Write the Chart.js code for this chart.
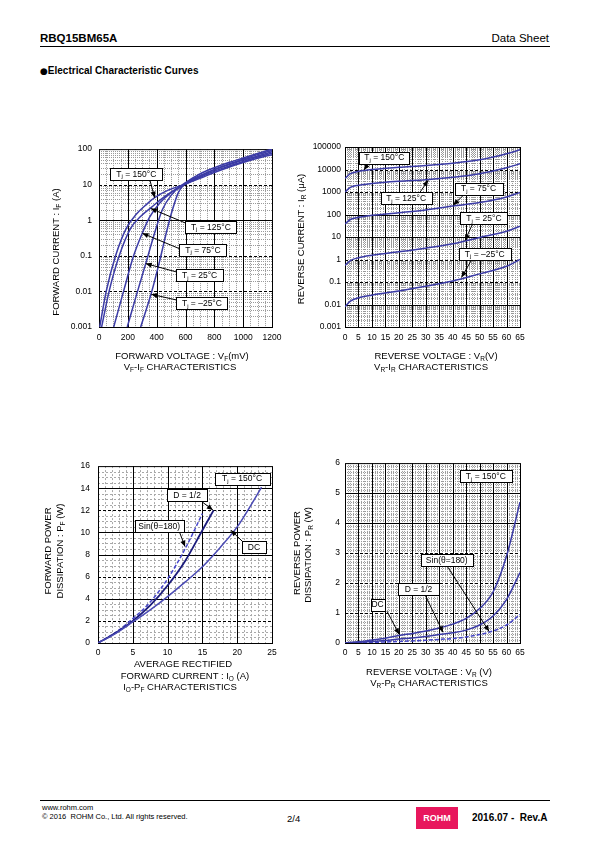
<!DOCTYPE html>
<html><head><meta charset="utf-8">
<script src="https://cdn.jsdelivr.net/npm/chart.js@4.4.1/dist/chart.umd.min.js"></script>
<style>
html,body{margin:0;padding:0}
body{width:595px;height:842px;background:#fff;position:relative;font-family:"Liberation Sans",Arial,sans-serif;color:#000;overflow:hidden}
.a{position:absolute;white-space:nowrap;line-height:1}
.c{transform:translate(-50%,-50%)}
.r{transform:translate(-50%,-50%) rotate(-90deg)}
.ax{font-size:9.5px}
sub{font-size:6.5px;vertical-align:-2px;line-height:0}
canvas{position:absolute}
.hr{position:absolute;height:1px;background:#000}
</style></head>
<body>
<div class="a" style="left:40px;top:33px;font-size:11.5px;font-weight:bold">RBQ15BM65A</div>
<div class="a" style="right:46px;top:33px;font-size:11.5px">Data Sheet</div>
<div class="hr" style="left:40px;top:46px;width:510px"></div>
<div class="a" style="left:40px;top:66px;font-size:10px;font-weight:bold"><span style="font-family:'DejaVu Sans';font-size:9px;vertical-align:0.5px">●</span>Electrical Characteristic Curves</div>

<canvas id="c1"></canvas><canvas id="c2"></canvas><canvas id="c3"></canvas><canvas id="c4"></canvas>

<!-- chart 1 titles -->
<div class="a r ax" style="left:56px;top:252px">FORWARD CURRENT : I<sub>F</sub> (A)</div>
<div class="a c ax" style="left:182px;top:356px">FORWARD VOLTAGE : V<sub>F</sub>(mV)</div>
<div class="a c ax" style="left:180px;top:367px">V<sub>F</sub>-I<sub>F</sub> CHARACTERISTICS</div>
<!-- chart 2 titles -->
<div class="a r ax" style="left:301px;top:239px">REVERSE CURRENT : I<sub>R</sub> (μA)</div>
<div class="a c ax" style="left:436px;top:356px">REVERSE VOLTAGE : V<sub>R</sub>(V)</div>
<div class="a c ax" style="left:431px;top:367px">V<sub>R</sub>-I<sub>R</sub> CHARACTERISTICS</div>
<!-- chart 3 titles -->
<div class="a r ax" style="left:48px;top:551px">FORWARD POWER</div>
<div class="a r ax" style="left:60px;top:551px">DISSIPATION : P<sub>F</sub> (W)</div>
<div class="a c ax" style="left:183px;top:664px">AVERAGE RECTIFIED</div>
<div class="a c ax" style="left:185px;top:676px">FORWARD CURRENT : I<sub>O</sub> (A)</div>
<div class="a c ax" style="left:180px;top:687px">I<sub>O</sub>-P<sub>F</sub> CHARACTERISTICS</div>
<!-- chart 4 titles -->
<div class="a r ax" style="left:297px;top:553px">REVERSE POWER</div>
<div class="a r ax" style="left:308px;top:555px">DISSIPATION : P<sub>R</sub> (W)</div>
<div class="a c ax" style="left:429px;top:672px">REVERSE VOLTAGE : V<sub>R</sub> (V)</div>
<div class="a c ax" style="left:429px;top:683px">V<sub>R</sub>-P<sub>R</sub> CHARACTERISTICS</div>

<!-- footer -->
<div class="hr" style="left:40px;top:800px;width:510px"></div>
<div class="a" style="left:42px;top:804px;font-size:7.5px">www.rohm.com</div>
<div class="a" style="left:42px;top:813px;font-size:7.5px">© 2016&nbsp; ROHM Co., Ltd. All rights reserved.</div>
<div class="a" style="left:287px;top:814px;font-size:9.5px">2/4</div>
<div class="a" style="left:416px;top:807px;width:42px;height:22px;background:#e8175d;color:#fff;font-weight:bold;font-size:9px;text-align:center;line-height:22px">ROHM</div>
<div class="a" style="left:472px;top:813px;font-size:10px;font-weight:bold">2016.07 -&nbsp; Rev.A</div>

<script>
// ---------------- DATA ----------------
// VF-IF (x: mV, y: A)
const vfTicksX = [0,200,400,600,800,1000,1200];
const vfTicksY = [0.001,0.01,0.1,1,10,100];
const vf150_mV = [5,50,115,190,260,330,386,480,600,700,800,900,1000,1100,1200];
const vf150_A  = [0.001,0.01,0.1,0.6,1.5,2.8,4.3,7,10.5,15,22,31,42,55,70];
const vf125_mV = [18,70,140,220,290,363,450,580,700,800,900,1000,1100,1200];
const vf125_A  = [0.001,0.01,0.1,0.6,1.3,2.3,4.5,9.5,16,24,33,45,60,77];
const vf75_mV  = [102,170,240,300,350,420,500,590,700,800,900,1000,1100,1200];
const vf75_A   = [0.001,0.01,0.1,0.43,1.2,3,6,10,17,26,36,49,64,84];
const vf25_mV  = [196,260,324,390,440,500,580,700,800,900,1000,1100,1200];
const vf25_A   = [0.001,0.008,0.06,0.5,2,5,10,18,27,38,52,70,92];
const vfm25_mV = [289,363,420,470,510,550,600,700,800,900,1000,1100,1200];
const vfm25_A  = [0.001,0.009,0.07,0.5,2,6,11,20,30,42,56,75,100];

// VR-IR (x: V, y: uA)
const vrTicksX = [0,5,10,15,20,25,30,35,40,45,50,55,60,65];
const vrTicksY = [0.001,0.01,0.1,1,10,100,1000,10000,100000];
const vr_V     = [0,2,5,10,20,30,40,50,60,65];
const ir150_uA = [4000,6500,8300,10000,12500,15000,19000,27000,50000,75000];
const ir125_uA = [1000,1600,2000,2400,3000,3500,4500,6500,12000,18000];
const ir75_uA  = [38,60,75,92,120,160,240,340,600,950];
const ir25_uA  = [0.55,0.9,1.2,1.55,2.2,3.2,5,9.5,18,30];
const irm25_uA = [0.008,0.014,0.02,0.026,0.04,0.065,0.11,0.23,0.5,1.0];

// Io-PF (x: A, y: W)
const ioTicksX = [0,5,10,15,20,25];
const ioTicksY = [0,2,4,6,8,10,12,14,16];
const pfDC_A   = [0,2.5,5,7.5,10,12.5,15,17.5,20,22,23.5];
const pfDC_W   = [0,0.85,1.9,3.0,4.2,5.5,6.9,8.6,10.5,12.5,14.1];
const pfD_A    = [0,2.5,5,7.5,10,12.5,15,16.6];
const pfD_W    = [0,0.9,2.0,3.4,5.2,7.4,10.2,12.0];
const pfSin_A  = [0,2.5,5,7.5,10,12.5,15];
const pfSin_W  = [0,0.95,2.2,3.7,5.8,8.5,11.7];

// VR-PR (x: V, y: W)
const prTicksX = [0,5,10,15,20,25,30,35,40,45,50,55,60,65];
const prTicksY = [0,1,2,3,4,5,6];
const pr_V     = [0,5,10,15,20,25,30,35,40,45,50,55,60,65];
const prDC_W   = [0,0.04,0.1,0.16,0.25,0.32,0.4,0.5,0.63,0.82,1.15,1.7,2.9,4.7];
const prD_W    = [0,0.02,0.05,0.08,0.13,0.17,0.22,0.28,0.34,0.43,0.6,0.9,1.45,2.35];
const prSin_W  = [0,0.008,0.02,0.035,0.05,0.07,0.09,0.12,0.15,0.2,0.28,0.4,0.6,0.95];

// ---------------- helpers ----------------
const FONT = '"Liberation Sans", Arial, sans-serif';
Chart.defaults.font.family = FONT;
Chart.defaults.color = '#000';

function pts(xs, ys){ return xs.map((x,i)=>({x:x, y:ys[i]})); }
function range(a,b,s){ const r=[]; for(let v=a; v<=b+1e-9; v+=s) r.push(+v.toFixed(6)); return r; }
function logMinor(d0,d1){ const r=[]; for(let d=d0; d<d1; d++) for(let k=2;k<=9;k++) r.push(k*Math.pow(10,d)); return r; }
function offMajor(list, step){ return list.filter(v=>Math.abs(v/step-Math.round(v/step))>1e-6); }

function segWidth(ctx, seg){
  let w=0; seg.forEach(([t,s])=>{ ctx.font=(s?'6px ':'8.5px ')+FONT; w+=ctx.measureText(t).width; }); return w;
}
function drawSeg(ctx, seg, x, y){
  let cx=x;
  seg.forEach(([t,s])=>{ ctx.font=(s?'6px ':'8.5px ')+FONT; ctx.fillText(t,cx,y+(s?2.5:0)); cx+=ctx.measureText(t).width; });
}
const Tj = t => [['T',0],['j',1],[' = '+t,0]];

const PAPER = {};
const paper = {
  id:'paperGrid',
  beforeDatasetsDraw(chart){
    const o = PAPER[chart.canvas.id]; if(!o) return;
    const {ctx, chartArea:a} = chart; const sx=chart.scales.x, sy=chart.scales.y;
    ctx.save();
    ctx.lineWidth=1; ctx.strokeStyle=o.minorColor; ctx.setLineDash(o.minorDash);
    ctx.beginPath();
    o.xMinor.forEach(v=>{ const p=Math.round(sx.getPixelForValue(v))+0.5; ctx.moveTo(p,a.top); ctx.lineTo(p,a.bottom); });
    o.yMinor.forEach(v=>{ const p=Math.round(sy.getPixelForValue(v))+0.5; ctx.moveTo(a.left,p); ctx.lineTo(a.right,p); });
    ctx.stroke();
    ctx.strokeStyle='#000';
    sx.ticks.forEach((t,i)=>{ if(i===0||i===sx.ticks.length-1) return;
      const p=Math.round(sx.getPixelForValue(t.value))+0.5;
      ctx.setLineDash(o.dashedX.includes(t.value)?[3,2]:[]);
      ctx.beginPath(); ctx.moveTo(p,a.top); ctx.lineTo(p,a.bottom); ctx.stroke(); });
    sy.ticks.forEach((t,i)=>{ if(i===0||i===sy.ticks.length-1) return;
      const p=Math.round(sy.getPixelForValue(t.value))+0.5;
      ctx.setLineDash(o.dashedY.includes(t.value)?[3,2]:[]);
      ctx.beginPath(); ctx.moveTo(a.left,p); ctx.lineTo(a.right,p); ctx.stroke(); });
    ctx.setLineDash([]);
    ctx.strokeRect(a.left+0.5,a.top+0.5,a.right-a.left,a.bottom-a.top);
    ctx.restore();
  },
  afterDatasetsDraw(chart){
    const o = PAPER[chart.canvas.id]; if(!o) return;
    const {ctx} = chart; const sx=chart.scales.x, sy=chart.scales.y;
    ctx.save(); ctx.setLineDash([]); ctx.lineWidth=1; ctx.strokeStyle='#000'; ctx.fillStyle='#000';
    o.annots.forEach(an=>{
      if(!an.tip) return;
      const x1=sx.getPixelForValue(an.tail[0]), y1=sy.getPixelForValue(an.tail[1]);
      const x2=sx.getPixelForValue(an.tip[0]), y2=sy.getPixelForValue(an.tip[1]);
      ctx.beginPath(); ctx.moveTo(x1,y1); ctx.lineTo(x2,y2); ctx.stroke();
      const g=Math.atan2(y2-y1,x2-x1), L=6, W=2.6;
      ctx.beginPath(); ctx.moveTo(x2,y2);
      ctx.lineTo(x2-L*Math.cos(g)+W*Math.sin(g), y2-L*Math.sin(g)-W*Math.cos(g));
      ctx.lineTo(x2-L*Math.cos(g)-W*Math.sin(g), y2-L*Math.sin(g)+W*Math.cos(g));
      ctx.closePath(); ctx.fill();
    });
    o.annots.forEach(an=>{
      const cx=sx.getPixelForValue(an.c[0]), cy=sy.getPixelForValue(an.c[1]);
      const tw=segWidth(ctx,an.seg), w=an.w||tw+10, h=12;
      const l=Math.round(cx-w/2)+0.5, t=Math.round(cy-h/2)+0.5;
      ctx.fillStyle='#fff'; ctx.fillRect(l,t,w,h); ctx.strokeRect(l,t,w,h);
      ctx.fillStyle='#000'; ctx.textBaseline='middle'; ctx.textAlign='left';
      drawSeg(ctx,an.seg,cx-tw/2,cy+0.5);
    });
    ctx.restore();
  }
};

function mk(id, rect, s){
  const cv=document.getElementById(id);
  const L=70,T=10,R=24,B=30,XH=20;
  cv.width=rect.right-rect.left+L+R; cv.height=rect.bottom-rect.top+T+B;
  cv.style.left=(rect.left-L)+'px'; cv.style.top=(rect.top-T)+'px';
  PAPER[id]=s.paper;
  const tickFont={size:8.5,family:FONT};
  new Chart(cv,{
    type:'line',
    data:{datasets:s.datasets.map(d=>({data:d.data,borderColor:d.color,borderWidth:d.width||1.5,borderDash:d.dash||[],
      pointRadius:0,fill:false,cubicInterpolationMode:'monotone'}))},
    options:{
      responsive:false, animation:false, devicePixelRatio:1,
      layout:{padding:{top:T,right:R,bottom:B-XH,left:0}},
      plugins:{legend:{display:false},tooltip:{enabled:false}},
      scales:{
        x:{type:'linear',min:s.xt[0],max:s.xt[s.xt.length-1],
          afterFit(sc){sc.height=XH;},
          afterBuildTicks(sc){sc.ticks=s.xt.map(v=>({value:v}));},
          grid:{display:false,drawTicks:false},border:{display:false},
          ticks:{font:tickFont,color:'#000',padding:s.xpad,maxRotation:0,autoSkip:false,callback:v=>String(v)}},
        y:{type:s.ylog?'logarithmic':'linear',min:s.yt[0],max:s.yt[s.yt.length-1],
          afterFit(sc){sc.width=L;},
          afterBuildTicks(sc){sc.ticks=s.yt.map(v=>({value:v}));},
          grid:{display:false,drawTicks:false},border:{display:false},
          ticks:{font:tickFont,color:'#000',padding:s.ypad,autoSkip:false,callback:v=>String(v)}}
      }
    },
    plugins:[paper]
  });
}

const BLUE='#3b3ba6';

// Chart 1: VF-IF
mk('c1',{left:99,top:147,right:272,bottom:327},{
  xt:vfTicksX, yt:vfTicksY, ylog:true, xpad:6, ypad:7,
  datasets:[
    {data:pts(vf150_mV,vf150_A),color:BLUE},
    {data:pts(vf125_mV,vf125_A),color:BLUE},
    {data:pts(vf75_mV,vf75_A),color:BLUE},
    {data:pts(vf25_mV,vf25_A),color:BLUE},
    {data:pts(vfm25_mV,vfm25_A),color:BLUE}],
  paper:{minorColor:'#9a9a9a',minorDash:[1,1],xMinor:offMajor(range(0,1200,50),200),yMinor:logMinor(-3,2),
    dashedX:[],dashedY:[10,0.1,0.01],
    annots:[
      {seg:Tj('150°C'),c:[259,20.4],w:52,tail:[352,14],tip:[386,4.3]},
      {seg:Tj('125°C'),c:[776,0.66],w:51,tail:[599,0.84],tip:[359,2.14]},
      {seg:Tj('75°C'),c:[721,0.149],w:47,tail:[560,0.158],tip:[301,0.43]},
      {seg:Tj('25°C'),c:[698,0.0286],w:47,tail:[537,0.0353],tip:[324,0.0605]},
      {seg:Tj('–25°C'),c:[714,0.0046],w:51,tail:[537,0.00575],tip:[363,0.0083]}]}
});

// Chart 2: VR-IR
mk('c2',{left:345,top:147,right:520,bottom:327},{
  xt:vrTicksX, yt:vrTicksY, ylog:true, xpad:6, ypad:4,
  datasets:[
    {data:pts(vr_V,ir150_uA),color:BLUE},
    {data:pts(vr_V,ir125_uA),color:BLUE},
    {data:pts(vr_V,ir75_uA),color:BLUE},
    {data:pts(vr_V,ir25_uA),color:BLUE},
    {data:pts(vr_V,irm25_uA),color:BLUE}],
  paper:{minorColor:'#9a9a9a',minorDash:[1,1],xMinor:offMajor(range(0,65,1),5),yMinor:logMinor(-3,5),
    dashedX:[],dashedY:[10000,1000,1,0.1],
    annots:[
      {seg:Tj('150°C'),c:[14.6,34000],w:50,tail:[8.65,18800],tip:[7.06,9460]},
      {seg:Tj('125°C'),c:[22.7,535],w:51,tail:[27.9,990],tip:[30.9,3290]},
      {seg:Tj('75°C'),c:[49.6,1416],w:48,tail:[44.3,782],tip:[40.2,261]},
      {seg:Tj('25°C'),c:[51.6,70],w:47,tail:[47.4,38.7],tip:[44.6,6.98]},
      {seg:Tj('–25°C'),c:[51.9,1.8],w:52,tail:[47.1,1.0],tip:[43.3,0.162]}]}
});

// Chart 3: Io-PF
mk('c3',{left:98,top:463,right:272,bottom:643},{
  xt:ioTicksX, yt:ioTicksY, ylog:false, xpad:5, ypad:8,
  datasets:[
    {data:pts(pfDC_A,pfDC_W),color:'#4a4ab4'},
    {data:pts(pfD_A,pfD_W),color:'#1c1c7c',width:1.8},
    {data:pts(pfSin_A,pfSin_W),color:'#4848cc',dash:[4,2]}],
  paper:{minorColor:'#a8a8a8',minorDash:[2,2],xMinor:offMajor(range(0,25,1),5),yMinor:offMajor(range(0,16,0.5),2),
    dashedX:[],dashedY:[12,6,2],
    annots:[
      {seg:Tj('150°C'),c:[20.7,14.87],w:55},
      {seg:[['D = 1/2',0]],c:[12.8,13.4],w:40,tail:[14.6,12.93],tip:[16.5,12.04]},
      {seg:[['Sin(θ=180)',0]],c:[8.8,10.57],w:49,tail:[11.7,10.05],tip:[12.5,8.72]},
      {seg:[['DC',0]],c:[22.4,8.64],w:24,tail:[20.8,9.16],tip:[19.1,10.2]}]}
});

// Chart 4: VR-PR
mk('c4',{left:345,top:463,right:520,bottom:643},{
  xt:prTicksX, yt:prTicksY, ylog:false, xpad:5, ypad:5,
  datasets:[
    {data:pts(pr_V,prDC_W),color:BLUE},
    {data:pts(pr_V,prD_W),color:BLUE},
    {data:pts(pr_V,prSin_W),color:'#4646c8',dash:[4,2]}],
  paper:{minorColor:'#9a9a9a',minorDash:[1,1],xMinor:offMajor(range(0,65,1),5),yMinor:offMajor(range(0,6,0.1),1),
    dashedX:[],dashedY:[1,2,3],
    annots:[
      {seg:Tj('150°C'),c:[52.3,5.56],w:52},
      {seg:[['Sin(θ=180)',0]],c:[37.8,2.77],w:52,tail:[38.2,2.53],tip:[53.5,0.39]},
      {seg:[['D = 1/2',0]],c:[27.3,1.81],w:41,tail:[29.6,1.63],tip:[36.4,0.36]},
      {seg:[['DC',0]],c:[12.1,1.28],w:14,tail:[15.6,1.06],tip:[20.1,0.29]}]}
});
</script>
</body></html>
